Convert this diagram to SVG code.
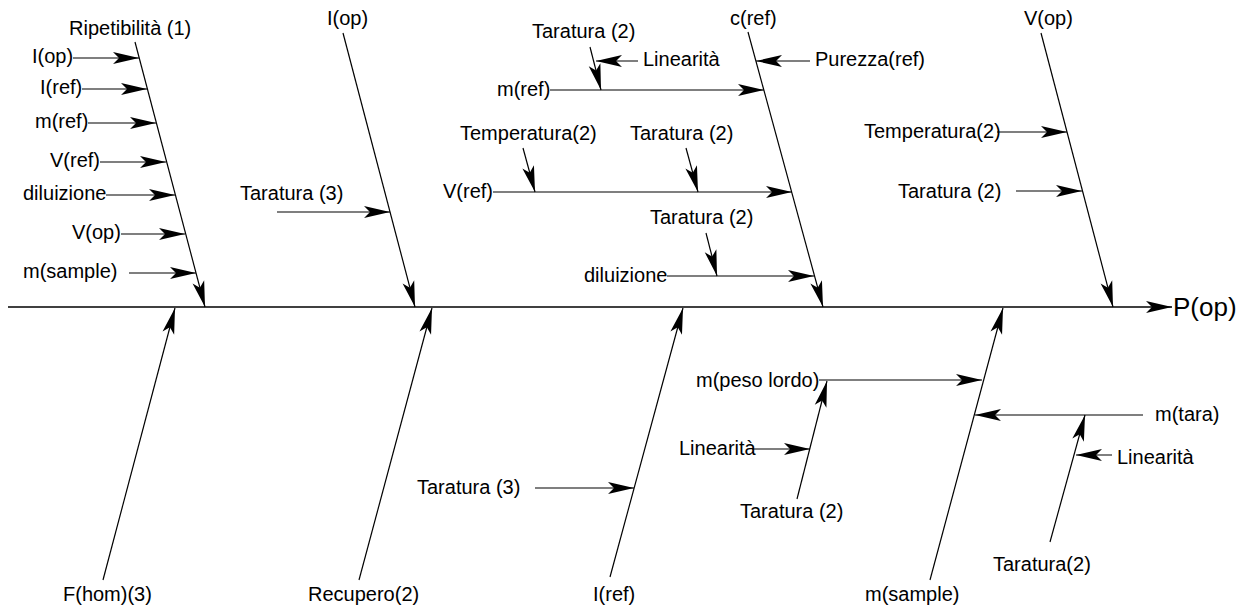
<svg xmlns="http://www.w3.org/2000/svg" width="1243" height="610" viewBox="0 0 1243 610">
<style>
text{font-family:"Liberation Sans",Arial,sans-serif;font-size:20px;fill:#000}
.big{font-size:26px}
#connectors line{stroke:#000;stroke-width:1.2;fill:none;marker-end:url(#ah)}
#connectors line.spine{stroke-width:1.5}
</style>
<defs>
<marker id="ah" markerUnits="userSpaceOnUse" markerWidth="28" markerHeight="14" refX="26" refY="6" orient="auto" overflow="visible">
<path d="M0,0 L26,6 L0,12 L6,6 Z" fill="#000"/>
</marker>
</defs>
<rect width="1243" height="610" fill="#fff"/>
<g id="connectors">
<line class="spine" x1="8" y1="307" x2="1172" y2="307"/>
<!-- branch 1 -->
<line x1="135" y1="42" x2="205" y2="307"/>
<line x1="73" y1="58" x2="139" y2="58"/>
<line x1="82" y1="89" x2="147" y2="89"/>
<line x1="88" y1="123" x2="156" y2="123"/>
<line x1="100" y1="162" x2="166" y2="162"/>
<line x1="106" y1="195" x2="175" y2="195"/>
<line x1="121" y1="234" x2="185" y2="234"/>
<line x1="129" y1="273" x2="196" y2="273"/>
<!-- branch 2 -->
<line x1="343" y1="33" x2="415" y2="307"/>
<line x1="277" y1="212" x2="390" y2="212"/>
<!-- branch 3 -->
<line x1="748" y1="32" x2="823" y2="307"/>
<line x1="810" y1="61" x2="756" y2="61"/>
<line x1="550" y1="90" x2="764" y2="90"/>
<line x1="590" y1="47" x2="601" y2="90"/>
<line x1="638" y1="61" x2="596" y2="61"/>
<line x1="493" y1="192" x2="792" y2="192"/>
<line x1="523" y1="148" x2="535" y2="192"/>
<line x1="686" y1="148" x2="698" y2="192"/>
<line x1="667" y1="276" x2="814" y2="276"/>
<line x1="706" y1="233" x2="717" y2="276"/>
<!-- branch 4 -->
<line x1="1041" y1="33" x2="1113" y2="307"/>
<line x1="997" y1="132" x2="1067" y2="132"/>
<line x1="1016" y1="191" x2="1082" y2="191"/>
<!-- bottom branches -->
<line x1="103" y1="580" x2="175" y2="308"/>
<line x1="359" y1="580" x2="432" y2="308"/>
<line x1="610" y1="577" x2="683" y2="308"/>
<line x1="535" y1="488" x2="634" y2="488"/>
<line x1="930" y1="580" x2="1003" y2="308"/>
<line x1="819" y1="380" x2="982" y2="380"/>
<line x1="797" y1="499" x2="827" y2="381"/>
<line x1="752" y1="449" x2="810" y2="449"/>
<line x1="1143" y1="415" x2="975" y2="415"/>
<line x1="1050" y1="542" x2="1085" y2="415"/>
<line x1="1112" y1="455" x2="1076" y2="455"/>
</g>
<g id="n-pop"><text class="big" x="1173" y="316">P(op)</text></g>
<g id="n-ripetibilita"><text x="69" y="35">Ripetibilità (1)</text></g>
<g id="n-r-iop"><text x="32" y="63">I(op)</text></g>
<g id="n-r-iref"><text x="40" y="94">I(ref)</text></g>
<g id="n-r-mref"><text x="35" y="128">m(ref)</text></g>
<g id="n-r-vref"><text x="50" y="167">V(ref)</text></g>
<g id="n-r-diluizione"><text x="23" y="200">diluizione</text></g>
<g id="n-r-vop"><text x="72" y="239">V(op)</text></g>
<g id="n-r-msample"><text x="23" y="278">m(sample)</text></g>
<g id="n-iop"><text x="327" y="25">I(op)</text></g>
<g id="n-iop-taratura"><text x="240" y="200">Taratura (3)</text></g>
<g id="n-cref"><text x="730" y="25">c(ref)</text></g>
<g id="n-purezza"><text x="815" y="66">Purezza(ref)</text></g>
<g id="n-c-mref"><text x="497" y="96">m(ref)</text></g>
<g id="n-c-taratura1"><text x="532" y="38">Taratura (2)</text></g>
<g id="n-c-linearita"><text x="643" y="66">Linearità</text></g>
<g id="n-c-vref"><text x="443" y="198">V(ref)</text></g>
<g id="n-c-temperatura"><text x="460" y="140">Temperatura(2)</text></g>
<g id="n-c-taratura2"><text x="630" y="140">Taratura (2)</text></g>
<g id="n-c-taratura3"><text x="650" y="224">Taratura (2)</text></g>
<g id="n-c-diluizione"><text x="584" y="282">diluizione</text></g>
<g id="n-vop"><text x="1024" y="25">V(op)</text></g>
<g id="n-v-temperatura"><text x="864" y="138">Temperatura(2)</text></g>
<g id="n-v-taratura"><text x="898" y="198">Taratura (2)</text></g>
<g id="n-fhom"><text x="63" y="601">F(hom)(3)</text></g>
<g id="n-recupero"><text x="308" y="601">Recupero(2)</text></g>
<g id="n-iref"><text x="593" y="601">I(ref)</text></g>
<g id="n-i-taratura"><text x="417" y="494">Taratura (3)</text></g>
<g id="n-msample"><text x="865" y="601">m(sample)</text></g>
<g id="n-pesolordo"><text x="696" y="387">m(peso lordo)</text></g>
<g id="n-p-linearita"><text x="679" y="455">Linearità</text></g>
<g id="n-p-taratura"><text x="740" y="518">Taratura (2)</text></g>
<g id="n-mtara"><text x="1155" y="421">m(tara)</text></g>
<g id="n-t-linearita"><text x="1117" y="464">Linearità</text></g>
<g id="n-t-taratura"><text x="993" y="571">Taratura(2)</text></g>
</svg>
